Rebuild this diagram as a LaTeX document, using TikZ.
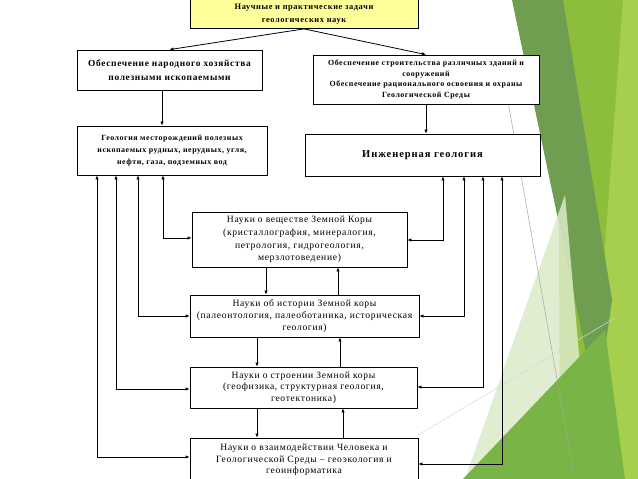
\documentclass[tikz,border=0pt]{standalone}
\usepackage{fontspec}
\setmainfont{Liberation Serif}
\newfontfamily\bfx[LetterSpace=7]{Liberation Serif}
\newfontfamily\bfy[LetterSpace=9]{Liberation Serif}
\newfontfamily\rgx[LetterSpace=7]{Liberation Serif}
\usetikzlibrary{arrows.meta}
\definecolor{topyellow}{HTML}{FFFF99}
\definecolor{olivegreen}{HTML}{709E50}
\definecolor{limegreen}{HTML}{8CBE3C}
\definecolor{palelime}{HTML}{A6CF4E}
\definecolor{palegreen}{HTML}{DCEBC8}
\definecolor{midgreen}{HTML}{78B446}
\begin{document}
\begin{tikzpicture}[x=1pt,y=-1pt,
  box/.style={draw, line width=0.8pt, fill=white, align=center, inner sep=1pt},
  bbox/.style={box, font=\bfx\bfseries},
  rbox/.style={box, font=\rgx},
  arr/.style={-{Latex[length=4pt,width=3.5pt]}, line width=0.8pt},
  darr/.style={{Latex[length=4pt,width=3.5pt]}-{Latex[length=4pt,width=3.5pt]}, line width=0.8pt}]
\useasboundingbox (0,0) rectangle (638,479);
% slide background
\fill[white] (0,0) rectangle (638,479);
\fill[limegreen] (558,0) -- (638,0) -- (638,479) -- (560,479) -- cycle;
\fill[palelime] (623,0) -- (638,0) -- (638,479) -- (588,479) -- cycle;
\fill[olivegreen] (512,0) -- (563,0) -- (612,300) -- (597,405) -- cycle;
\fill[palegreen, opacity=0.85] (465,479) -- (565,195) -- (590,479) -- cycle;
\fill[midgreen] (463,479) -- (605,330) -- (625,479) -- cycle;
\draw[gray!70, line width=0.5pt] (506,90) -- (573,470);
\draw[gray!30, line width=0.5pt] (418,435) -- (615,318);
% nodes
\node[bbox, fill=topyellow, minimum width=228pt, minimum height=29pt,
  font=\bfx\bfseries\fontsize{8.4}{12.5}\selectfont] (top) at (304,14)
  {Научные и практические задачи\\геологических наук};
\node[bbox, minimum width=185pt, minimum height=40pt,
  font=\bfx\bfseries\fontsize{9.4}{14}\selectfont] (b2) at (169.5,70)
  {Обеспечение народного хозяйства\\полезными ископаемыми};
\node[bbox, minimum width=226pt, minimum height=49pt,
  font=\bfx\bfseries\fontsize{7.9}{10.7}\selectfont] (b3) at (426,79.5)
  {Обеспечение строительства различных зданий и\\сооружений\\Обеспечение рационального освоения и охраны\\Геологической Среды};
\node[bbox, minimum width=190pt, minimum height=49pt,
  font=\bfx\bfseries\fontsize{7.9}{11.8}\selectfont] (b4) at (172,150.5)
  {Геология месторождений полезных\\ископаемых рудных, нерудных, угля,\\нефти, газа, подземных вод};
\node[box, minimum width=235pt, minimum height=42pt,
  font=\bfy\bfseries\fontsize{10.5}{12}\selectfont] (eng) at (422.5,155)
  {Инженерная геология};
\node[rbox, minimum width=215pt, minimum height=55pt,
  font=\rgx\fontsize{9.6}{12.7}\selectfont] (b5) at (299.5,239.5)
  {Науки о веществе Земной Коры\\(кристаллография, минералогия,\\петрология, гидрогеология,\\мерзлотоведение)};
\node[rbox, minimum width=229pt, minimum height=42pt,
  font=\rgx\fontsize{9.6}{11.7}\selectfont] (b6) at (304.5,316)
  {Науки об истории Земной коры\\(палеонтология, палеоботаника, историческая\\геология)};
\node[rbox, minimum width=227pt, minimum height=41pt,
  font=\rgx\fontsize{9.6}{11.3}\selectfont] (b7) at (303.5,387.5)
  {Науки о строении Земной коры\\(геофизика, структурная геология,\\геотектоника)};
\node[rbox, minimum width=228pt, minimum height=44pt,
  font=\rgx\fontsize{9.6}{11.5}\selectfont] (b8) at (304,460)
  {Науки о взаимодействии Человека и\\Геологической Среды – геоэкология и\\геоинформатика};
% routing coordinates
\coordinate (L1) at (163,238);
\coordinate (L2) at (138,316);
\coordinate (L3) at (116,389);
\coordinate (L4) at (97,457);
\coordinate (R1) at (443,240);
\coordinate (R2) at (464,316);
\coordinate (R3) at (483,387);
\coordinate (R4) at (502,464);
\coordinate (V1) at (266,0);
\coordinate (V2) at (338,0);
\coordinate (V3) at (257,0);
\coordinate (V4) at (340,0);
\coordinate (V5) at (343,0);
\coordinate (M1) at (162,0);
% connectors
\draw[arr] (top.south) -- (b2.north);
\draw[arr] (top.south) -- (b3.north);
\draw[arr] (b2.south -| M1) -- (b4.north -| M1);
\draw[arr] (b3.south) -- (b3.south |- eng.north);
\draw[darr] (b4.south -| L1) |- (b5.west |- L1);
\draw[darr] (b4.south -| L2) |- (b6.west |- L2);
\draw[darr] (b4.south -| L3) |- (b7.west |- L3);
\draw[darr] (b4.south -| L4) |- (b8.west |- L4);
\draw[darr] (eng.south -| R1) |- (b5.east |- R1);
\draw[darr] (eng.south -| R2) |- (b6.east |- R2);
\draw[darr] (eng.south -| R3) |- (b7.east |- R3);
\draw[darr] (eng.south -| R4) |- (b8.east |- R4);
\draw[arr] (b5.south -| V1) -- (b6.north -| V1);
\draw[arr] (b6.north -| V2) -- (b5.south -| V2);
\draw[arr] (b6.south -| V3) -- (b7.north -| V3);
\draw[arr] (b7.north -| V4) -- (b6.south -| V4);
\draw[arr] (b7.south -| V3) -- (b8.north -| V3);
\draw[arr] (b8.north -| V5) -- (b7.south -| V5);
\end{tikzpicture}
\end{document}
